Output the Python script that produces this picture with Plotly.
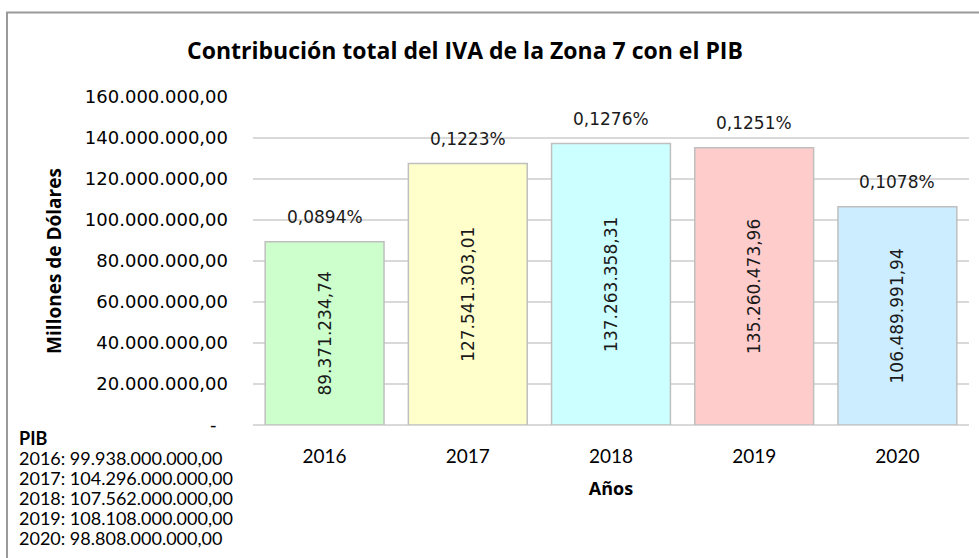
import plotly.graph_objects as go

# Data
years = ["2016", "2017", "2018", "2019", "2020"]
iva_values = [89371234.74, 127541303.01, 137263358.31, 135260473.96, 106489991.94]
pib_share_pct = [0.0894, 0.1223, 0.1276, 0.1251, 0.1078]
pib_values = [99938000000.00, 104296000000.00, 107562000000.00, 108108000000.00, 98808000000.00]
bar_colors = ["#CCFFCC", "#FFFFCC", "#CCFFFF", "#FFCCCC", "#CCECFF"]
y_ticks = [0, 20000000, 40000000, 60000000, 80000000, 100000000, 120000000, 140000000, 160000000]


def fmt_es(v):
    """Spanish number format: 1.234.567,89"""
    s = f"{v:,.2f}"
    return s.replace(",", "X").replace(".", ",").replace("X", ".")


def fmt_pct(p):
    return f"{p:.4f}".replace(".", ",") + "%"


y_ticktext = ["-\u00a0\u00a0" if v == 0 else fmt_es(v) for v in y_ticks]

# plot area in pixels (979 x 558 page)
L, R, T, B = 253, 10, 97, 133
W, H = 979, 558
pw, ph = W - L - R, H - T - B


def px_x(px):
    return (px - L) / pw


def px_y(py):
    return (H - B - py) / ph


LABEL_FONT = "DejaVu Sans"
TEXT_FONT = "Lato"
BOLD_FONT = "Open Sans"

fig = go.Figure()
fig.add_trace(go.Bar(
    x=years,
    y=iva_values,
    marker=dict(color=bar_colors, line=dict(color="#BFBFBF", width=1.5)),
    text=[fmt_es(v) for v in iva_values],
    textposition="inside",
    insidetextanchor="middle",
    textangle=-90,
    textfont=dict(family=LABEL_FONT, size=17, color="#1a1a1a"),
    constraintext="none",
    hoverinfo="skip",
))

annotations = []
# percentage of PIB above each bar (category axis: position by index)
for i, (v, p) in enumerate(zip(iva_values, pib_share_pct)):
    annotations.append(dict(
        x=i, y=v, xref="x", yref="y",
        text=fmt_pct(p), showarrow=False,
        yanchor="bottom", yshift=13,
        font=dict(family=LABEL_FONT, size=17, color="#1a1a1a"),
    ))

# PIB notes at the lower left
annotations.append(dict(
    x=px_x(17), y=px_y(438), xref="paper", yref="paper",
    text="<b>PIB</b>", showarrow=False, xanchor="left", yanchor="middle",
    font=dict(family=TEXT_FONT, size=18, color="#000000"),
))
for i, (yr, pv) in enumerate(zip(years, pib_values)):
    annotations.append(dict(
        x=px_x(17), y=px_y(458 + 20 * i), xref="paper", yref="paper",
        text=f"{yr}: {fmt_es(pv)}", showarrow=False, xanchor="left", yanchor="middle",
        font=dict(family=TEXT_FONT, size=18, color="#000000"),
    ))

# outer frame (left and top edges)
frame_color = "#9A9A9A"
shapes = [
    dict(type="line", xref="paper", yref="paper",
         x0=px_x(7), x1=px_x(7), y0=px_y(H + 2), y1=px_y(12.5),
         line=dict(color=frame_color, width=2)),
    dict(type="line", xref="paper", yref="paper",
         x0=px_x(6), x1=px_x(W + 2), y0=px_y(12.5), y1=px_y(12.5),
         line=dict(color=frame_color, width=2)),
]

fig.update_layout(
    width=W, height=H,
    margin=dict(l=L, r=R, t=T, b=B, pad=0),
    paper_bgcolor="white",
    plot_bgcolor="white",
    showlegend=False,
    bargap=0.17,
    title=dict(
        text="<b>Contribución total del IVA de la Zona 7 con el PIB</b>",
        x=465 / W, xref="container", xanchor="center",
        y=1 - 51 / H, yref="container", yanchor="middle",
        font=dict(family=BOLD_FONT, size=23, color="#000000"),
    ),
    xaxis=dict(
        type="category",
        range=[-0.5, 4.5],
        showgrid=False, zeroline=False, showline=False,
        ticks="", ticklabelstandoff=18,
        tickfont=dict(family=TEXT_FONT, size=19, color="#000000"),
        title=dict(text="<b>Años</b>", standoff=16,
                   font=dict(family=BOLD_FONT, size=18, color="#000000")),
    ),
    yaxis=dict(
        range=[0, 160000000],
        tickvals=y_ticks, ticktext=y_ticktext,
        showgrid=True, gridcolor="#D9D9D9", gridwidth=1.5,
        zeroline=True, zerolinecolor="#D9D9D9", zerolinewidth=1.5,
        showline=False, ticks="", ticklabelstandoff=24,
        tickfont=dict(family=LABEL_FONT, size=18, color="#000000"),
        title=dict(text="<b>Millones de Dólares</b>", standoff=18,
                   font=dict(family=BOLD_FONT, size=19, color="#000000")),
    ),
    annotations=annotations,
    shapes=shapes,
)

fig.write_html("out.html")
